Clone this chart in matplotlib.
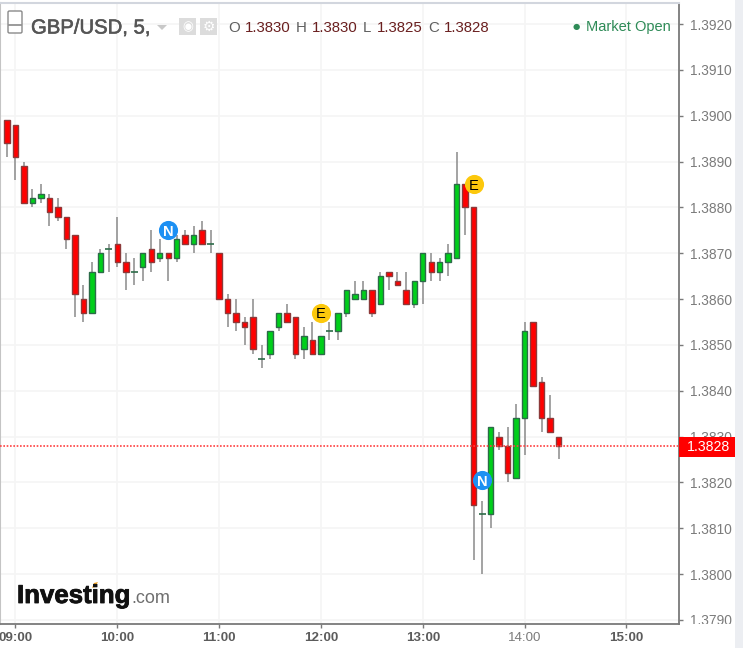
import matplotlib
matplotlib.use("Agg")
import matplotlib.pyplot as plt
import matplotlib.patheffects as pe
from matplotlib.patches import Rectangle, FancyBboxPatch
from matplotlib.transforms import Bbox, TransformedBbox

W, H = 743, 648

# 5 minute bars, first bar is 08:55
opens = [1.3899, 1.3898, 1.3889, 1.3881, 1.3882, 1.3882, 1.3880, 1.3878, 1.3874, 1.3860,
         1.3857, 1.3866, 1.3871, 1.3872, 1.3868, 1.3866, 1.3867, 1.3871, 1.3869, 1.3870,
         1.3869, 1.3874, 1.3872, 1.3875, 1.3872, 1.3870, 1.3860, 1.3857, 1.3855, 1.3856,
         1.3847, 1.3848, 1.3854, 1.3857, 1.3856, 1.3849, 1.3851, 1.3848, 1.3853, 1.3853,
         1.3857, 1.3860, 1.3860, 1.3862, 1.3859, 1.3866, 1.3864, 1.3862, 1.3859, 1.3864,
         1.3868, 1.3866, 1.3868, 1.3869, 1.3885, 1.3880, 1.3813, 1.3813, 1.3830, 1.3828,
         1.3821, 1.3834, 1.3855, 1.3842, 1.3834, 1.3830]
highs = [1.3899, 1.3898, 1.3890, 1.3884, 1.3885, 1.3883, 1.3882, 1.3878, 1.3874, 1.3863,
         1.3868, 1.3871, 1.3872, 1.3878, 1.3870, 1.3869, 1.3870, 1.3875, 1.3873, 1.3870,
         1.3874, 1.3875, 1.3876, 1.3877, 1.3875, 1.3870, 1.3861, 1.3860, 1.3856, 1.3860,
         1.3850, 1.3853, 1.3857, 1.3859, 1.3856, 1.3854, 1.3855, 1.3852, 1.3855, 1.3857,
         1.3862, 1.3864, 1.3864, 1.3862, 1.3866, 1.3866, 1.3866, 1.3866, 1.3864, 1.3870,
         1.3870, 1.3869, 1.3872, 1.3892, 1.3885, 1.3880, 1.3816, 1.3832, 1.3831, 1.3832,
         1.3837, 1.3855, 1.3855, 1.3843, 1.3839, 1.3830]
lows = [1.3891, 1.3886, 1.3881, 1.3880, 1.3881, 1.3876, 1.3877, 1.3871, 1.3856, 1.3855,
        1.3857, 1.3866, 1.3866, 1.3867, 1.3862, 1.3863, 1.3864, 1.3866, 1.3868, 1.3864,
        1.3868, 1.3872, 1.3870, 1.3872, 1.3870, 1.3860, 1.3854, 1.3853, 1.3850, 1.3848,
        1.3845, 1.3847, 1.3853, 1.3855, 1.3847, 1.3847, 1.3848, 1.3848, 1.3851, 1.3851,
        1.3856, 1.3860, 1.3860, 1.3856, 1.3859, 1.3862, 1.3863, 1.3859, 1.3858, 1.3859,
        1.3864, 1.3864, 1.3865, 1.3869, 1.3874, 1.3803, 1.3800, 1.3810, 1.3827, 1.3820,
        1.3821, 1.3826, 1.3841, 1.3831, 1.3831, 1.3825]
closes = [1.3894, 1.3891, 1.3881, 1.3882, 1.3883, 1.3879, 1.3878, 1.3873, 1.3861, 1.3857,
          1.3866, 1.3870, 1.3871, 1.3868, 1.3866, 1.3866, 1.3870, 1.3868, 1.3870, 1.3869,
          1.3873, 1.3872, 1.3874, 1.3872, 1.3872, 1.3860, 1.3857, 1.3855, 1.3854, 1.3849,
          1.3847, 1.3853, 1.3857, 1.3855, 1.3848, 1.3852, 1.3848, 1.3852, 1.3853, 1.3857,
          1.3862, 1.3861, 1.3862, 1.3857, 1.3865, 1.3865, 1.3863, 1.3859, 1.3864, 1.3870,
          1.3866, 1.3868, 1.3870, 1.3885, 1.3880, 1.3815, 1.3813, 1.3832, 1.3828, 1.3822,
          1.3834, 1.3853, 1.3841, 1.3834, 1.3831, 1.3828]

# minutes after 09:00 of each bar
minutes = [-5 + 5 * i for i in range(len(opens))]

y_ticks = [1.3790, 1.3800, 1.3810, 1.3820, 1.3830, 1.3840, 1.3850, 1.3860, 1.3870, 1.3880, 1.3890, 1.3900, 1.3910, 1.3920]
x_ticks = [0, 60, 120, 180, 240, 300, 360]
x_labels = ["09:00", "10:00", "11:00", "12:00", "13:00", "14:00", "15:00"]

# event badges: letter, bar minute, price, colour
events = [("N", 90, 1.38750, "#1c90f3", "white"),
          ("E", 180, 1.38570, "#fcc80c", "black"),
          ("E", 270, 1.38850, "#fcc80c", "black"),
          ("N", 275, 1.38205, "#1c90f3", "white")]

last_price = closes[-1]

RED = "#ff0000"
GREEN = "#00cf1a"
RED_EDGE = "#8c3a3a"
GREEN_EDGE = "#2c6b48"
WICK = "#8a8a8a"
GRID = "#f5f5f5"
AXIS = "#7a7a7a"
LABEL = "#7b7b7b"


def fx(px):
    return px / W


def fy(py):
    return 1 - py / H


plt.rcParams["font.family"] = ["Liberation Sans", "DejaVu Sans"]

fig = plt.figure(figsize=(W / 100, H / 100), dpi=100, facecolor="white")
ax = fig.add_axes([0, fy(624), fx(679), (624 - 3) / H])
ax.set_facecolor("white")

ax.set_xlim(-9.13, 391)
ax.set_ylim(1.37891, 1.39246)

ax.set_xticks(x_ticks)
ax.set_xticklabels(x_labels)
ax.set_yticks(y_ticks)
ax.set_yticklabels([f"{t:.4f}" for t in y_ticks])
ax.yaxis.tick_right()
ax.grid(True, color=GRID, linewidth=1.2, zorder=0)
ax.set_axisbelow(True)

ax.tick_params(axis="y", length=3, width=1, color=AXIS, labelcolor=LABEL, labelsize=9.9, pad=5)
ax.tick_params(axis="x", length=3, width=1, color=AXIS, labelcolor="#5c5c5c", labelsize=9.6, pad=3)
for lab, txt in zip(ax.get_xticklabels(), x_labels):
    if txt == "14:00":
        lab.set_color(LABEL)
    else:
        lab.set_fontweight("bold")

# the lowest price label gets cut by the time axis
clip = TransformedBbox(Bbox([[0, fy(624)], [1, 1]]), fig.transFigure)
for lab in ax.get_yticklabels():
    lab.set_clip_box(clip)
    lab.set_clip_on(True)

ax.spines["right"].set_color(AXIS)
ax.spines["right"].set_linewidth(1.3)
ax.spines["bottom"].set_color(AXIS)
ax.spines["bottom"].set_linewidth(1.3)
ax.spines["left"].set_color("#c4c4c4")
ax.spines["left"].set_linewidth(1.5)
ax.spines["top"].set_color("#d2d6de")
ax.spines["top"].set_linewidth(1.5)

# wicks, then bodies
ax.vlines(minutes, lows, highs, color=WICK, linewidth=1.1, zorder=2)
for m, o, c in zip(minutes, opens, closes):
    if o == c:
        ax.hlines(o, m - 2, m + 2, color=GREEN_EDGE, linewidth=1.2, zorder=3)
        continue
    face = GREEN if c > o else RED
    edge = GREEN_EDGE if c > o else RED_EDGE
    ax.bar(m, abs(c - o), width=3.2, bottom=min(o, c), color=face, edgecolor=edge, linewidth=1.0, zorder=3)

# last price line
ax.axhline(last_price, color="#ff4040", linewidth=1.2, linestyle=(0, (1, 1)), zorder=4)

for letter, m, price, col, txt_col in events:
    ax.scatter([m], [price], s=190, color=col, linewidths=0, zorder=5)
    ax.text(m, price, letter, color=txt_col, fontsize=10.5, ha="center", va="center_baseline",
            fontweight="bold" if letter == "N" else "normal", zorder=6)

# price tag on the axis
fig.add_artist(Rectangle((fx(679), fy(457)), (735 - 679) / W, 20 / H, transform=fig.transFigure,
                         facecolor="#ff0000", edgecolor="none", zorder=5))
fig.text(fx(708), fy(447), f"{last_price:.4f}", color="white", fontsize=10.2, ha="center", va="center", zorder=6)
# grey strip at the right edge
fig.add_artist(Rectangle((fx(735), 0), 8 / W, 1, transform=fig.transFigure,
                         facecolor="#eceef2", edgecolor="none"))

# header
fig.add_artist(FancyBboxPatch((fx(8), fy(33)), 14 / W, 22 / H, boxstyle="round,pad=0,rounding_size=0.002",
                              transform=fig.transFigure, facecolor="white", edgecolor="#8a8a8a", linewidth=1))
fig.add_artist(plt.Line2D([fx(9), fx(21)], [fy(25), fy(25)], color="#8a8a8a", linewidth=1.2))
title = fig.text(fx(31), fy(28), "GBP/USD, 5,", color="#555555", fontsize=14.6, ha="left", va="center")
title.set_path_effects([pe.withStroke(linewidth=0.4, foreground="#555555")])
fig.add_artist(plt.Polygon([[fx(157), fy(25)], [fx(167), fy(25)], [fx(162), fy(30)]], closed=True,
                           transform=fig.transFigure, facecolor="#c8c8c8", edgecolor="none"))
fig.add_artist(Rectangle((fx(179), fy(35)), 17 / W, 17 / H, transform=fig.transFigure, facecolor="#dcdcdc", edgecolor="none"))
fig.add_artist(Rectangle((fx(200), fy(35)), 17 / W, 17 / H, transform=fig.transFigure, facecolor="#dcdcdc", edgecolor="none"))
fig.text(fx(187.5), fy(26.5), "◉", color="white", fontsize=9, ha="center", va="center", family="DejaVu Sans")
fig.text(fx(208.5), fy(26.5), "⚙", color="white", fontsize=10, ha="center", va="center", family="DejaVu Sans")

ohlc_letters = [("O", 228), ("H", 296), ("L", 363), ("C", 428)]
ohlc_values = [("1.3830", 245), ("1.3830", 312), ("1.3825", 377), ("1.3828", 444)]
for txt, px in ohlc_letters:
    fig.text(fx(px), fy(28), txt, color="#5f5f5f", fontsize=10.8, ha="left", va="center")
for txt, px in ohlc_values:
    fig.text(fx(px), fy(28), txt, color="#6a1f1f", fontsize=10.8, ha="left", va="center")

fig.text(fx(576), fy(27), "●", color="#2e8b57", fontsize=6, ha="center", va="center", family="DejaVu Sans")
fig.text(fx(586), fy(26.5), "Market Open", color="#2e8b57", fontsize=10.5, ha="left", va="center")

# logo
logo = fig.text(fx(17), fy(603), "Investing", color="#111111", fontsize=18.6, fontweight="bold", ha="left", va="baseline")
logo.set_path_effects([pe.withStroke(linewidth=0.6, foreground="#111111")])
fig.text(fx(131), fy(603), ".com", color="#6e6e6e", fontsize=13, ha="left", va="baseline")
fig.add_artist(plt.Polygon([[fx(92), fy(588)], [fx(95), fy(587)], [fx(98), fy(582)], [fx(94), fy(583)]], closed=True,
                           transform=fig.transFigure, facecolor="#f5a623", edgecolor="none"))

fig.savefig("out.png", dpi=100)
